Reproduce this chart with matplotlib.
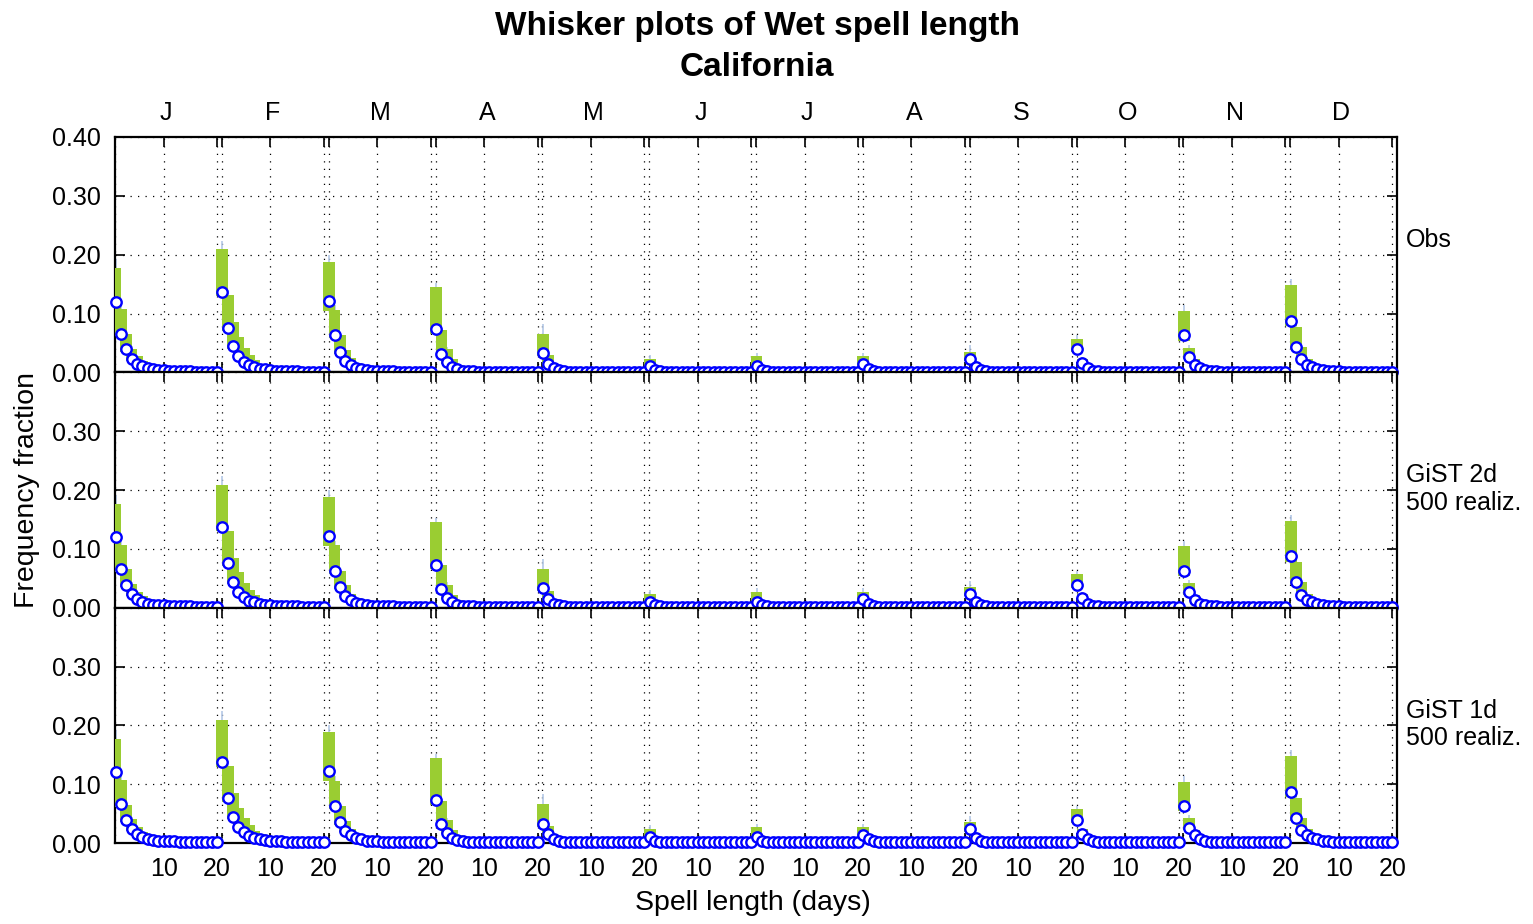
import numpy as np
import matplotlib
matplotlib.use("Agg")
import matplotlib.pyplot as plt

plt.rcParams["font.family"] = ["Liberation Sans", "DejaVu Sans"]
plt.rcParams["font.size"] = 18

months = ["J", "F", "M", "A", "M", "J", "J", "A", "S", "O", "N", "D"]
panel_names = ["Obs", "GiST 2d\n500 realiz.", "GiST 1d\n500 realiz."]
spell_days = np.arange(1, 21)

# observed frequency fraction for spell lengths 1..20 days, one row per month
obs_frac = [
    [0.120, 0.066, 0.039, 0.023, 0.015, 0.010, 0.007, 0.005, 0.004, 0.004, 0.003, 0.003, 0.002, 0.002, 0.002, 0.001, 0.001, 0.001, 0.001, 0.001],
    [0.137, 0.076, 0.044, 0.027, 0.018, 0.012, 0.009, 0.006, 0.005, 0.004, 0.003, 0.003, 0.002, 0.002, 0.002, 0.001, 0.001, 0.001, 0.001, 0.001],
    [0.122, 0.063, 0.035, 0.020, 0.013, 0.008, 0.006, 0.004, 0.003, 0.003, 0.002, 0.002, 0.002, 0.001, 0.001, 0.001, 0.001, 0.001, 0.001, 0.001],
    [0.073, 0.032, 0.017, 0.009, 0.005, 0.003, 0.002, 0.002, 0.001, 0.001, 0.001, 0.001, 0.001, 0.001, 0.001, 0.001, 0.001, 0.001, 0.001, 0.001],
    [0.033, 0.015, 0.007, 0.004, 0.002, 0.001, 0.001, 0.001, 0.001, 0.001, 0.001, 0.001, 0.001, 0.001, 0.001, 0.001, 0.001, 0.001, 0.001, 0.001],
    [0.010, 0.004, 0.002, 0.001, 0.001, 0.001, 0.001, 0.001, 0.001, 0.001, 0.001, 0.001, 0.001, 0.001, 0.001, 0.001, 0.001, 0.001, 0.001, 0.001],
    [0.010, 0.004, 0.002, 0.001, 0.001, 0.001, 0.001, 0.001, 0.001, 0.001, 0.001, 0.001, 0.001, 0.001, 0.001, 0.001, 0.001, 0.001, 0.001, 0.001],
    [0.014, 0.006, 0.003, 0.001, 0.001, 0.001, 0.001, 0.001, 0.001, 0.001, 0.001, 0.001, 0.001, 0.001, 0.001, 0.001, 0.001, 0.001, 0.001, 0.001],
    [0.023, 0.009, 0.004, 0.002, 0.001, 0.001, 0.001, 0.001, 0.001, 0.001, 0.001, 0.001, 0.001, 0.001, 0.001, 0.001, 0.001, 0.001, 0.001, 0.001],
    [0.039, 0.016, 0.007, 0.003, 0.002, 0.001, 0.001, 0.001, 0.001, 0.001, 0.001, 0.001, 0.001, 0.001, 0.001, 0.001, 0.001, 0.001, 0.001, 0.001],
    [0.063, 0.026, 0.013, 0.007, 0.004, 0.002, 0.002, 0.001, 0.001, 0.001, 0.001, 0.001, 0.001, 0.001, 0.001, 0.001, 0.001, 0.001, 0.001, 0.001],
    [0.087, 0.043, 0.022, 0.013, 0.009, 0.006, 0.004, 0.003, 0.002, 0.002, 0.001, 0.001, 0.001, 0.001, 0.001, 0.001, 0.001, 0.001, 0.001, 0.001],
]

# box (upper / lower) of the simulated distribution
box_hi = [
    [0.177, 0.107, 0.065, 0.040, 0.027, 0.019, 0.013, 0.010, 0.009, 0.008, 0.008, 0.008, 0.008, 0.008, 0.008, 0.008, 0.008, 0.008, 0.008, 0.008],
    [0.209, 0.131, 0.085, 0.060, 0.042, 0.030, 0.021, 0.015, 0.011, 0.009, 0.008, 0.008, 0.008, 0.008, 0.008, 0.008, 0.008, 0.008, 0.008, 0.008],
    [0.188, 0.106, 0.063, 0.038, 0.024, 0.016, 0.011, 0.009, 0.008, 0.008, 0.008, 0.008, 0.008, 0.008, 0.008, 0.008, 0.008, 0.008, 0.008, 0.008],
    [0.145, 0.072, 0.039, 0.022, 0.013, 0.010, 0.008, 0.008, 0.008, 0.008, 0.008, 0.008, 0.008, 0.008, 0.008, 0.008, 0.008, 0.008, 0.008, 0.008],
    [0.066, 0.029, 0.014, 0.009, 0.008, 0.008, 0.008, 0.008, 0.008, 0.008, 0.008, 0.008, 0.008, 0.008, 0.008, 0.008, 0.008, 0.008, 0.008, 0.008],
    [0.023, 0.011, 0.008, 0.008, 0.008, 0.008, 0.008, 0.008, 0.008, 0.008, 0.008, 0.008, 0.008, 0.008, 0.008, 0.008, 0.008, 0.008, 0.008, 0.008],
    [0.027, 0.012, 0.008, 0.008, 0.008, 0.008, 0.008, 0.008, 0.008, 0.008, 0.008, 0.008, 0.008, 0.008, 0.008, 0.008, 0.008, 0.008, 0.008, 0.008],
    [0.027, 0.013, 0.008, 0.008, 0.008, 0.008, 0.008, 0.008, 0.008, 0.008, 0.008, 0.008, 0.008, 0.008, 0.008, 0.008, 0.008, 0.008, 0.008, 0.008],
    [0.035, 0.016, 0.009, 0.008, 0.008, 0.008, 0.008, 0.008, 0.008, 0.008, 0.008, 0.008, 0.008, 0.008, 0.008, 0.008, 0.008, 0.008, 0.008, 0.008],
    [0.057, 0.023, 0.012, 0.009, 0.008, 0.008, 0.008, 0.008, 0.008, 0.008, 0.008, 0.008, 0.008, 0.008, 0.008, 0.008, 0.008, 0.008, 0.008, 0.008],
    [0.104, 0.042, 0.022, 0.012, 0.009, 0.008, 0.008, 0.008, 0.008, 0.008, 0.008, 0.008, 0.008, 0.008, 0.008, 0.008, 0.008, 0.008, 0.008, 0.008],
    [0.148, 0.077, 0.043, 0.023, 0.014, 0.010, 0.009, 0.008, 0.008, 0.008, 0.008, 0.008, 0.008, 0.008, 0.008, 0.008, 0.008, 0.008, 0.008, 0.008],
]
box_lo = [
    [0.104, 0.061, 0.035, 0.020, 0.012, 0.008, 0.006, 0.004, 0.003, 0.003, 0.002, 0.002, 0.001, 0.001, 0.001, 0.000, 0.000, 0.000, 0.000, 0.000],
    [0.130, 0.070, 0.040, 0.024, 0.015, 0.010, 0.007, 0.005, 0.004, 0.003, 0.002, 0.002, 0.001, 0.001, 0.001, 0.000, 0.000, 0.000, 0.000, 0.000],
    [0.105, 0.058, 0.031, 0.018, 0.011, 0.007, 0.005, 0.003, 0.002, 0.002, 0.001, 0.001, 0.001, 0.000, 0.000, 0.000, 0.000, 0.000, 0.000, 0.000],
    [0.065, 0.028, 0.015, 0.007, 0.004, 0.002, 0.001, 0.001, 0.000, 0.000, 0.000, 0.000, 0.000, 0.000, 0.000, 0.000, 0.000, 0.000, 0.000, 0.000],
    [0.028, 0.012, 0.005, 0.003, 0.001, 0.000, 0.000, 0.000, 0.000, 0.000, 0.000, 0.000, 0.000, 0.000, 0.000, 0.000, 0.000, 0.000, 0.000, 0.000],
    [0.007, 0.003, 0.001, 0.000, 0.000, 0.000, 0.000, 0.000, 0.000, 0.000, 0.000, 0.000, 0.000, 0.000, 0.000, 0.000, 0.000, 0.000, 0.000, 0.000],
    [0.008, 0.003, 0.001, 0.000, 0.000, 0.000, 0.000, 0.000, 0.000, 0.000, 0.000, 0.000, 0.000, 0.000, 0.000, 0.000, 0.000, 0.000, 0.000, 0.000],
    [0.011, 0.004, 0.002, 0.000, 0.000, 0.000, 0.000, 0.000, 0.000, 0.000, 0.000, 0.000, 0.000, 0.000, 0.000, 0.000, 0.000, 0.000, 0.000, 0.000],
    [0.019, 0.007, 0.003, 0.001, 0.000, 0.000, 0.000, 0.000, 0.000, 0.000, 0.000, 0.000, 0.000, 0.000, 0.000, 0.000, 0.000, 0.000, 0.000, 0.000],
    [0.034, 0.013, 0.005, 0.002, 0.001, 0.000, 0.000, 0.000, 0.000, 0.000, 0.000, 0.000, 0.000, 0.000, 0.000, 0.000, 0.000, 0.000, 0.000, 0.000],
    [0.054, 0.022, 0.011, 0.005, 0.003, 0.001, 0.001, 0.000, 0.000, 0.000, 0.000, 0.000, 0.000, 0.000, 0.000, 0.000, 0.000, 0.000, 0.000, 0.000],
    [0.078, 0.038, 0.019, 0.011, 0.007, 0.004, 0.003, 0.002, 0.001, 0.001, 0.000, 0.000, 0.000, 0.000, 0.000, 0.000, 0.000, 0.000, 0.000, 0.000],
]
# upper whisker ends for the first four spell lengths
whisk_hi = [
    [0.192, 0.116, 0.071, 0.044],
    [0.224, 0.140, 0.092, 0.066],
    [0.200, 0.114, 0.068, 0.041],
    [0.152, 0.078, 0.043, 0.024],
    [0.083, 0.034, 0.016, 0.010],
    [0.030, 0.013, 0.009, 0.008],
    [0.033, 0.014, 0.009, 0.008],
    [0.033, 0.015, 0.009, 0.008],
    [0.046, 0.019, 0.010, 0.008],
    [0.063, 0.026, 0.014, 0.010],
    [0.114, 0.047, 0.025, 0.014],
    [0.158, 0.083, 0.047, 0.026],
]

days_per_month = 20
x_lo, x_hi = 0.9, 12 * days_per_month + 0.9

fig = plt.figure(figsize=(15.33, 9.24), dpi=100)
left, right = 115 / 1533, 1397 / 1533
top_px, bot_px = 137, 843
ph = (bot_px - top_px) / 3 / 924

green = "#9acd32"
dot_grid = dict(color="black", linestyle=(0, (1, 5)), linewidth=0.9)

xticks, xlabels = [], []
for m in range(12):
    xticks += [m * days_per_month + x_lo, m * days_per_month + 10, m * days_per_month + 20]
    xlabels += ["", "10", "20"]

axes = []
for p, name in enumerate(panel_names):
    bottom = 1 - (top_px / 924) - (p + 1) * ph
    ax = fig.add_axes([left, bottom, right - left, ph])
    axes.append(ax)

    for m in range(12):
        xs = m * days_per_month + spell_days
        hi = np.array(box_hi[m])
        lo = np.array(box_lo[m])
        wh = np.array(whisk_hi[m])
        ax.vlines(xs[:len(wh)], hi[:len(wh)], wh, color="#b4c8e6", lw=1.2, zorder=2)
        ax.bar(xs, hi - lo, bottom=lo, width=2.2, color=green, linewidth=0, zorder=3)
        ax.plot(xs, obs_frac[m], "o", ms=7.5, mfc="white", mec="#0000ff", mew=1.7,
                zorder=5, clip_on=False)

    ax.set_xlim(x_lo, x_hi)
    ax.set_ylim(0, 0.40)
    ax.set_yticks([0.0, 0.1, 0.2, 0.3, 0.4])
    if p == 0:
        ax.set_yticklabels(["0.00", "0.10", "0.20", "0.30", "0.40"])
    else:
        ax.set_yticklabels(["0.00", "0.10", "0.20", "0.30", ""])
    ax.set_xticks(xticks)
    ax.set_xticklabels(xlabels if p == 2 else [""] * len(xticks))
    ax.tick_params(direction="in", top=True, right=True, length=7, width=1.2,
                   labelsize=18, pad=10)
    ax.grid(True, **dot_grid)
    ax.set_axisbelow(True)
    for s in ax.spines.values():
        s.set_linewidth(1.6)

    # series name beside each panel
    fig.text(1406 / 1533, 1 - 228 / 924 - p * ph, name, ha="left", va="top",
             fontsize=18, linespacing=1.2)

# month letters along the top panel
for m, lab in enumerate(months):
    axes[0].text(m * days_per_month + 10.5, 1 + 24 / 235, lab, ha="center", va="center",
                 fontsize=18, transform=axes[0].get_xaxis_transform())

fig.text(0.494, 1 - 27 / 924, "Whisker plots of Wet spell length", ha="center", va="center",
         fontsize=24, fontweight="bold")
fig.text(0.494, 1 - 67 / 924, "California", ha="center", va="center",
         fontsize=24, fontweight="bold")
fig.text(27 / 1533, 1 - 490 / 924, "Frequency fraction", rotation=90, ha="center",
         va="center", fontsize=20.5)
fig.text(753 / 1533, 1 - 903 / 924, "Spell length (days)", ha="center", va="center",
         fontsize=20.5)

fig.savefig("out.png", dpi=100)
